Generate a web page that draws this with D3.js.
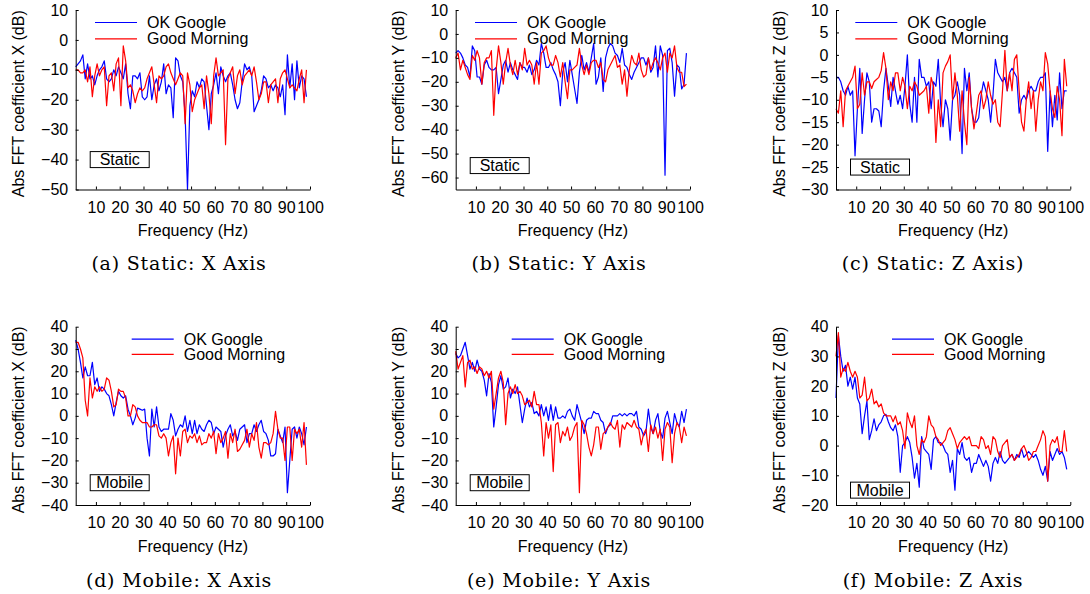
<!DOCTYPE html>
<html>
<head>
<meta charset="utf-8">
<script src="https://cdn.jsdelivr.net/npm/d3@7"></script>
<style>
  body { margin: 0; background: #fff; }
  svg { display: block; }
  .axis path, .axis line { stroke: #000; stroke-width: 1; }
  .axis text { font-family: "Liberation Sans", Arial, sans-serif; font-size: 16px; fill: #000; }
  .lbl { font-family: "Liberation Sans", Arial, sans-serif; font-size: 16px; fill: #000; }
  .cap { font-family: "DejaVu Serif", serif; font-size: 19px; letter-spacing: 0.8px; fill: #000; }
</style>
</head>
<body>
<div id="chart"></div>
<script>
// frequency bins (Hz)
var freq = [1.5,2.5,3.5,4.5,5.5,6.5,7.5,8.5,9.5,10.5,
  11.5,12.5,13.5,14.5,15.5,16.5,17.5,18.5,19.5,20.5,
  21.5,22.5,23.5,24.5,25.5,26.5,27.5,28.5,29.5,30.5,
  31.5,32.5,33.5,34.5,35.5,36.5,37.5,38.5,39.5,40.5,
  41.5,42.5,43.5,44.5,45.5,46.5,47.5,48.5,49.5,50.5,
  51.5,52.5,53.5,54.5,55.5,56.5,57.5,58.5,59.5,60.5,
  61.5,62.5,63.5,64.5,65.5,66.5,67.5,68.5,69.5,70.5,
  71.5,72.5,73.5,74.5,75.5,76.5,77.5,78.5,79.5,80.5,
  81.5,82.5,83.5,84.5,85.5,86.5,87.5,88.5,89.5,90.5,
  91.5,92.5,93.5,94.5,95.5,96.5,97.5,98.5];

var seriesNames = ["OK Google", "Good Morning"];
var xTicks = [10,20,30,40,50,60,70,80,90,100];
var ticksStaticX = [-50,-40,-30,-20,-10,0,10];
var ticksStaticY = [-60,-50,-40,-30,-20,-10,0,10];
var ticksStaticZ = [-30,-25,-20,-15,-10,-5,0,5,10];
var ticksMobileX = [-40,-30,-20,-10,0,10,20,30,40];
var ticksMobileY = [-40,-30,-20,-10,0,10,20,30,40];
var ticksMobileZ = [-20,-10,0,10,20,30,40];
var captionLabels = ["(a) Static: X Axis", "(b) Static: Y Axis", "(c) Static: Z Axis)",
  "(d) Mobile: X Axis", "(e) Mobile: Y Axis", "(f) Mobile: Z Axis"];
var yTitles = ["Abs FFT coefficient X (dB)", "Abs FFT coefficient Y (dB)", "Abs FFT coefficient Z (dB)"];

var staticXGoogle = [-9,-8,-7,-5,-13,-8,-13,-12,-15,-12,
  -10,-9,-7,-13,-14,-13,-10,-12,-9,-11,
  -13,-8,-18,-23,-12,-12,-13,-11,-19,-20,
  -19,-12,-20,-15,-13,-17,-14,-8,-18,-15,
  -16,-26,-6,-7,-12,-14,-25,-50,-22,-17,
  -19,-14,-16,-13,-14,-22,-30,-18,-15,-11,
  -18,-9,-12,-14,-12,-11,-15,-20,-23,-21,
  -14,-8,-10,-9,-12,-24,-22,-20,-17,-12,
  -13,-16,-15,-17,-15,-16,-19,-15,-25,-5,
  -16,-8,-20,-7,-16,-12,-13,-19];
var staticXMorning = [-10,-10,-11,-11,-10,-14,-9,-19,-12,-8,
  -12,-10,-9,-22,-12,-11,-17,-8,-6,-22,
  -2,-7,-16,-15,-17,-21,-18,-16,-17,-16,
  -13,-11,-9,-15,-21,-12,-13,-12,-9,-8,
  -11,-13,-15,-13,-11,-12,-28,-11,-15,-24,
  -20,-18,-16,-15,-23,-12,-18,-28,-12,-6,
  -12,-11,-10,-35,-13,-11,-9,-18,-12,-10,
  -15,-12,-11,-10,-12,-9,-14,-20,-18,-14,
  -14,-21,-15,-14,-13,-21,-13,-11,-10,-13,
  -16,-15,-16,-17,-13,-10,-21,-10];

var staticYGoogle = [-8,-7,-8,-10,-13,-14,-18,-5,-7,-18,
  -18,-21,-13,-11,-14,-15,-15,-14,-25,-19,
  -13,-11,-16,-12,-15,-17,-19,-12,-14,-14,
  -16,-13,-17,-15,-11,-13,-4,-8,-14,-14,
  -12,-15,-17,-20,-30,-16,-12,-20,-11,-17,
  -23,-29,-16,-9,-15,-12,-16,-10,-4,-21,
  -18,-10,-24,-10,-6,-4,-5,-8,-9,-12,
  -6,-13,-14,-17,-19,-16,-14,-12,-10,-10,
  -13,-10,-16,-14,-5,-18,-5,-9,-59,-7,
  -6,-12,-26,-13,-14,-23,-21,-8];
var staticYMorning = [-10,-8,-15,-11,-14,-17,-19,-9,-11,-7,
  -10,-21,-12,-10,-10,-7,-34,-15,-5,-12,
  -21,-12,-6,-13,-17,-11,-17,-12,-15,-6,
  -13,-11,-13,-21,-12,-21,-8,-7,-5,-10,
  -13,-13,-9,-12,-18,-12,-20,-27,-15,-15,
  -14,-13,-6,-13,-17,-13,-17,-12,-11,-11,
  -14,-12,-19,-20,-15,-13,-11,-9,-14,-13,
  -21,-15,-26,-15,-9,-12,-13,-8,-15,-18,
  -17,-10,-15,-12,-10,-12,-15,-10,-8,-16,
  -8,-10,-5,-14,-16,-16,-22,-21];

var staticZGoogle = [-5,-5,-6,-8,-9,-7,-9,-8,-22.5,-12,
  -3,-17.5,-10,-4,-6,-15,-12,-12,-12.5,-16,
  -8,-3,-7,-11.5,-5,-8,-11,-9,-12,-7,
  0,-11,-15,-5,-15,-1,-5,-5,-7,-6,
  -12,-6,-7,-1,-11,-16,-10,-12,-19,-10,
  -9,-6,-9,-22,-3,-8,-4,-12,-15,-15,
  -14,-9,-6,-8,-10,-15,-9,-1,-4,-5,
  -6,-5,-8,-4,-3,-4,-5,-13,-10,-9,
  -10,-8,-7,-8,-8,-6,-5,-5,-4,-21.5,
  -8,-16,-9,-14.5,-4,-12,-8,-8];
var staticZMorning = [-12,-13,-8,-16,-8,-7,-6,-5,-2.5,-12,
  -11,-4,-9,-6,-6,-7.5,-6,-5.5,-5,-3.5,
  0.5,-3,-10,-6,-8,-4,-4,-8,-5,-7,
  -12,-7,-8,-6,-7,-9,-8.5,-8,-7,-13,
  -5,-7,-19.5,-10,-16,-4,-2.5,-1.5,0,-10,
  -4,-9,-17,-8,-15,-20,-5,-12,-16.5,-13,
  -9,-8,-12,-10,-6,-9,-11,-10,-15,-16,
  -8,1,-8,-4,-8,-1,0,-8,-15,-17,
  -10,-6,-12,-8,-17,-10,-6,-8,0.5,-2,
  -8,-12,-14,-7,-10,-18,-1,-7];

var mobileXGoogle = [34,30,24,17,22,18,18,24,14,17,
  11,13,12,10,9,5,0,6,11,9,
  8,9,3,0,-4,-1,3.5,3,2.5,3,
  -10,-18,3,-5,4,-5,-7,-6,-6,-6,
  1,-2,-9,-6,-4,-5,0,-7,-2,-8,
  -2,-8,-4,-6,-7,-4,-2,-3,-8,-5,
  -6,-7,-14,-9,-6,-4,-9,-7,-11,-6,
  -5,-4,-12,-8,-8,-4,-7,-4,-2,-7,
  -8,-11,-18,-18,-17,-6,-9,-12,-5,-34.5,
  -20,-6,-5,-10,-5,-8,-13,-5];
var mobileXMorning = [33,33,30,26,7,0,17,8,13,11,
  13,11,12,17,16,11,4,5,12,11,
  11,8,0,0,5,4,0,-2,-3,-3,
  -3,-5,-5,-4,-4,-9,-10,-8,-10,-18,
  -12,-9,-26,-10,-18,-7,-6,-12,-9,-10,
  -8,-12,-9,-13,-12,-12,-8,-10,-7,-17,
  -8,-12,-10,-7,-19,-8,-12,-6,-16,-15,
  -13,-11,-6,-14,-8,-11,-3,-14,-19,-12,
  -12,-13,-12,-8,2,-6,-10,-10,-20,-5,
  -5,-20,-6,-8,-6,-14,-3,-22];

var mobileYGoogle = [28,26,27,30,33,27,21,24,20,25,
  21,20,16,9,19,15,-5,4,14,18,
  12,13,17,8,12,10,13,5,-3,3,
  8,4,6,1,2,0,5,0,4,-2,
  5,-2,4,-1,-1,0,-1,2,3,0,
  -2,5,1,-3,-8,-2,-1,-1,2,1,
  1,-2,-3,-8,-5,-4,0,0,0,1,
  0,1,0,1,1,0,2,-5,-6,-9,
  -7,3,-5,-8,-2,1,-7,-10,-1,2,
  -3,-8,1,-3,-5,2,-3,3];
var mobileYMorning = [29,21,24,27,13,24,25,21,22,19,
  22,21,18,20,17,20,3,10,17,20,
  15,-4,10,13,10,14,10,11,9,5,
  6,7,4,11,5,5,-3,-18,-3,-10,
  -4,-25,-4,-3,-12,-7,-9,-5,-11,-9,
  -5,-3,-34.5,-2,-4,-8,-14,-18,-13,-5,
  -5,-15,-8,-7,-5,-3,-5,-6,-2,-14,
  -4,-6,-3,-4,-5,-2,-5,-6,-13,-8,
  -6,-16,-4,-8,-5,-10,-6,-20,-6,-3,
  -5,-21,-8,-3,-5,-12,-5,-9];

var mobileZGoogle = [16,37,30,25,27,20,23,19,23,16,
  14,4,10,15,2,5,9,5,7,8,
  10,10.5,8,6,5,7,3,-9,0,1,
  3,1,-4,-11,-6,-14,3,-1,-2,-3,
  -8,2,3,1,1,0,-2,-3,-9,-5,
  -15,-1,-3,1,-4,-5,-4,-9,-6,-6,
  -3,-5,-7,-5,-7,-12,-6,-4,-6,-2,
  -5,-6,-5,-4,-3,-5,-3,-4,-1,-4,
  -3,-2,-3,-4,-3,-5,-8,-10,-7,-12,
  -2,-5,-3,-1,-3,-2,-4,-8];
var mobileZMorning = [30,38,23,26,25,28,25,23,25,23,
  16,17,23,15,16,19,14,15,13,14,
  11,10,10,10,8,10,7,8,5,-1,
  11,8,6,10,0,-3,2,1,3,10,
  7,6,3,2,0,1,2,5,6,4,
  2,-1,1,2,3,2,3,0,0,0,
  -1,3,2,-1,0,-3,3,2,-2,-4,
  0,1,2,-4,-3,-5,-4,-3,-1,0,
  -2,-5,-4,-2,-2,0,2,5,3,-12,
  0,2,1,3,-2,-2,5,-2];

function init() {

  var w = 1090;
  var h = 594;
  var plotW = 234.3;
  var colLeft = [75.7, 455.7, 836];
  var rowTop = [10, 326.7];
  var rowBottom = [189.5, 505];
  var captionX = [179, 559, 933];
  var captionY = [263, 580];
  var colors = ["#0000ff", "#ff0000"];

  var panels = [
    { col: 0, row: 0, data: [staticXGoogle, staticXMorning], yDomain: [-50, 10], yTicks: ticksStaticX, tag: "Static", tagY: -40 },
    { col: 1, row: 0, data: [staticYGoogle, staticYMorning], yDomain: [-65, 10], yTicks: ticksStaticY, tag: "Static", tagY: -55 },
    { col: 2, row: 0, data: [staticZGoogle, staticZMorning], yDomain: [-30, 10], yTicks: ticksStaticZ, tag: "Static", tagY: -25 },
    { col: 0, row: 1, data: [mobileXGoogle, mobileXMorning], yDomain: [-40, 40], yTicks: ticksMobileX, tag: "Mobile", tagY: -30 },
    { col: 1, row: 1, data: [mobileYGoogle, mobileYMorning], yDomain: [-40, 40], yTicks: ticksMobileY, tag: "Mobile", tagY: -30 },
    { col: 2, row: 1, data: [mobileZGoogle, mobileZMorning], yDomain: [-20, 40], yTicks: ticksMobileZ, tag: "Mobile", tagY: -15 }
  ];

  var svg = d3.select("#chart")
    .append("svg")
    .attr("width", w)
    .attr("height", h);

  panels.forEach(function(p, k) {
    var left = colLeft[p.col];
    var top = rowTop[p.row];
    var bottom = rowBottom[p.row];

    var xScale = d3.scaleLinear()
      .domain([1.5, 100])
      .range([left, left + plotW]);

    var yScale = d3.scaleLinear()
      .domain(p.yDomain)
      .range([bottom, top]);

    var xAxis = d3.axisBottom(xScale)
      .tickValues(xTicks)
      .tickSizeInner(-3)
      .tickSizeOuter(0)
      .tickPadding(12);

    var yAxis = d3.axisLeft(yScale)
      .tickValues(p.yTicks)
      .tickSizeInner(-3)
      .tickSizeOuter(0)
      .tickPadding(7.5);

    var line = d3.line()
      .x(function(d) { return xScale(d[0]); })
      .y(function(d) { return yScale(d[1]); });

    p.data.forEach(function(values, s) {
      svg.append("path")
        .datum(freq.map(function(f, i) { return [f, values[i]]; })
          .filter(function(d) { return d[1] !== undefined; }))
        .attr("fill", "none")
        .attr("stroke", colors[s])
        .attr("stroke-width", 1.2)
        .attr("stroke-linejoin", "round")
        .attr("d", line);
    });

    svg.append("g")
      .attr("class", "axis")
      .attr("transform", "translate(0," + bottom + ")")
      .call(xAxis);

    svg.append("g")
      .attr("class", "axis")
      .attr("transform", "translate(" + left + ",0)")
      .call(yAxis);

    // legend
    var lx = left + (p.row === 0 ? 19.3 : 56);
    var ly = top + 12.5;
    seriesNames.forEach(function(name, s) {
      var yy = ly + s * (p.row === 0 ? 16.3 : 15.2);
      svg.append("line")
        .attr("x1", lx).attr("x2", lx + 42)
        .attr("y1", yy).attr("y2", yy)
        .attr("stroke", colors[s])
        .attr("stroke-width", 1.2);
      svg.append("text")
        .attr("class", "lbl")
        .attr("x", lx + 52)
        .attr("y", yy)
        .attr("dominant-baseline", "central")
        .text(name);
    });

    // Static / Mobile tag
    var tx = xScale(20), ty = yScale(p.tagY);
    svg.append("rect")
      .attr("x", tx - 29.5).attr("y", ty - 8)
      .attr("width", 59).attr("height", 16)
      .attr("fill", "#fff")
      .attr("stroke", "#000")
      .attr("stroke-width", 1);
    svg.append("text")
      .attr("class", "lbl")
      .attr("x", tx).attr("y", ty)
      .attr("text-anchor", "middle")
      .attr("dominant-baseline", "central")
      .text(p.tag);

    // axis titles
    svg.append("text")
      .attr("class", "lbl")
      .attr("x", left + plotW / 2)
      .attr("y", bottom + 41)
      .attr("text-anchor", "middle")
      .attr("dominant-baseline", "central")
      .text("Frequency (Hz)");

    svg.append("text")
      .attr("class", "lbl")
      .attr("transform", "translate(" + (left - 57) + "," + ((top + bottom) / 2 + 4) + ") rotate(-90)")
      .attr("text-anchor", "middle")
      .attr("dominant-baseline", "central")
      .text(yTitles[p.col]);

    // sub caption
    svg.append("text")
      .attr("class", "cap")
      .attr("x", captionX[p.col])
      .attr("y", captionY[p.row])
      .attr("text-anchor", "middle")
      .attr("dominant-baseline", "central")
      .text(captionLabels[k]);
  });
}

window.onload = init;
</script>
</body>
</html>
